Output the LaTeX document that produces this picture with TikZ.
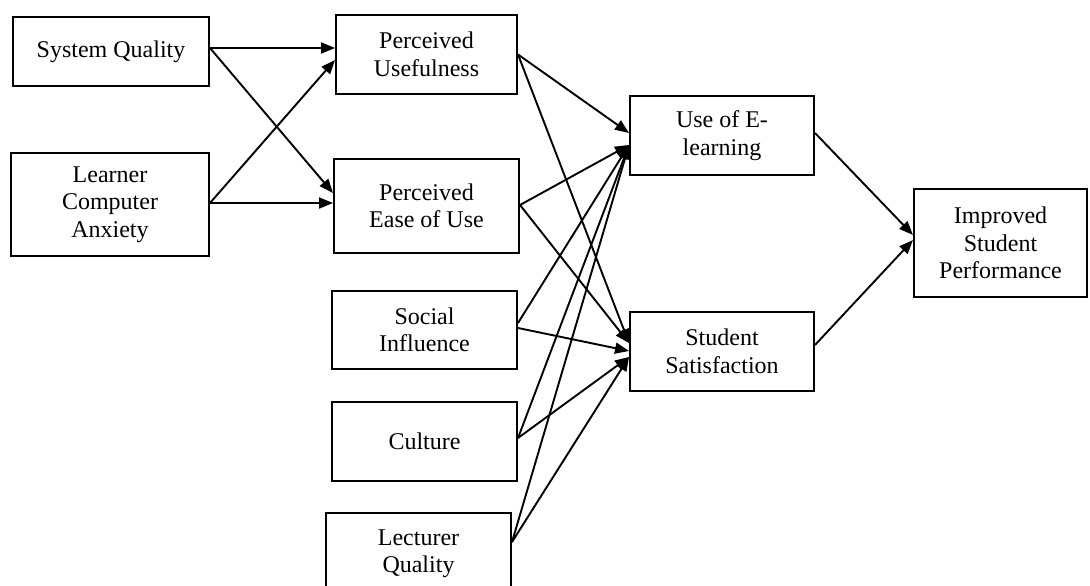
\documentclass[tikz,border=0pt]{standalone}
\usepackage{fontspec}
\setmainfont{Liberation Serif}
\usetikzlibrary{arrows.meta}
\begin{document}
\begin{tikzpicture}[x=1pt,y=-1pt,
  box/.style={draw,line width=2pt,align=center,inner sep=0pt,
    font=\fontsize{24}{27.5}\selectfont},
  arr/.style={line width=1.9pt,-{Triangle[length=14pt,width=11pt]}}]
\useasboundingbox (0,0) rectangle (1090,586);
\clip (0,0) rectangle (1090,586);
\fill[white] (0,0) rectangle (1090,586);
\node[box,minimum width=196pt,minimum height=69pt] (sq) at (111,51.5) {System Quality};
\node[box,minimum width=198pt,minimum height=103pt] (lca) at (110,204.5) {Learner\\Computer\\Anxiety};
\node[box,minimum width=181pt,minimum height=79pt] (pu) at (426.5,54.5) {Perceived\\Usefulness};
\node[box,minimum width=185pt,minimum height=94pt] (pe) at (426.5,206) {Perceived\\Ease of Use};
\node[box,minimum width=185pt,minimum height=78pt] (si) at (424.5,330) {Social\\Influence};
\node[box,minimum width=185pt,minimum height=79pt] (cu) at (424.5,441.5) {Culture};
\node[box,minimum width=185pt,minimum height=81pt] (lq) at (418.5,553.5) {Lecturer\\Quality};
\node[box,minimum width=184pt,minimum height=79pt] (ue) at (722,135.5) {Use of E-\\learning};
\node[box,minimum width=184pt,minimum height=79pt] (ss) at (722,351.5) {Student\\Satisfaction};
\node[box,minimum width=173pt,minimum height=108pt] (isp) at (1000.5,243) {Improved\\Student\\Performance};
% left stage
\draw[arr] ([yshift=3.5pt]sq.east) -- ([yshift=6.5pt]pu.west);
\draw[arr] ([yshift=3.5pt]sq.east) -- ([yshift=13pt]pe.west);
\draw[arr] ([yshift=1.5pt]lca.east) -- ([yshift=-5.5pt]pu.west);
\draw[arr] ([yshift=1.5pt]lca.east) -- ([yshift=3pt]pe.west);
% middle stage
\draw[arr] (pu.east) -- ([yshift=2.5pt]ue.west);
\draw[arr] (pu.east) -- ([yshift=8.5pt]ss.west);
\draw[arr] ([yshift=1pt]pe.east) -- ([yshift=-9.5pt]ue.west);
\draw[arr] ([yshift=1pt]pe.east) -- ([yshift=8.5pt]ss.west);
\draw[arr] ([yshift=7pt]si.east) -- ([yshift=-9.5pt]ue.west);
\draw[arr] ([yshift=2pt]si.east) -- ([yshift=0.5pt]ss.west);
\draw[arr] ([yshift=3.5pt]cu.east) -- ([yshift=-9.5pt]ue.west);
\draw[arr] ([yshift=3.5pt]cu.east) -- ([yshift=-5.5pt]ss.west);
\draw[arr] ([yshift=11.5pt]lq.east) -- ([yshift=-9.5pt]ue.west);
\draw[arr] ([yshift=11.5pt]lq.east) -- ([yshift=-5.5pt]ss.west);
% right stage
\draw[arr] ([yshift=2.5pt]ue.east) -- ([yshift=8pt]isp.west);
\draw[arr] ([yshift=6.5pt]ss.east) -- ([yshift=3pt]isp.west);
\end{tikzpicture}
\end{document}
